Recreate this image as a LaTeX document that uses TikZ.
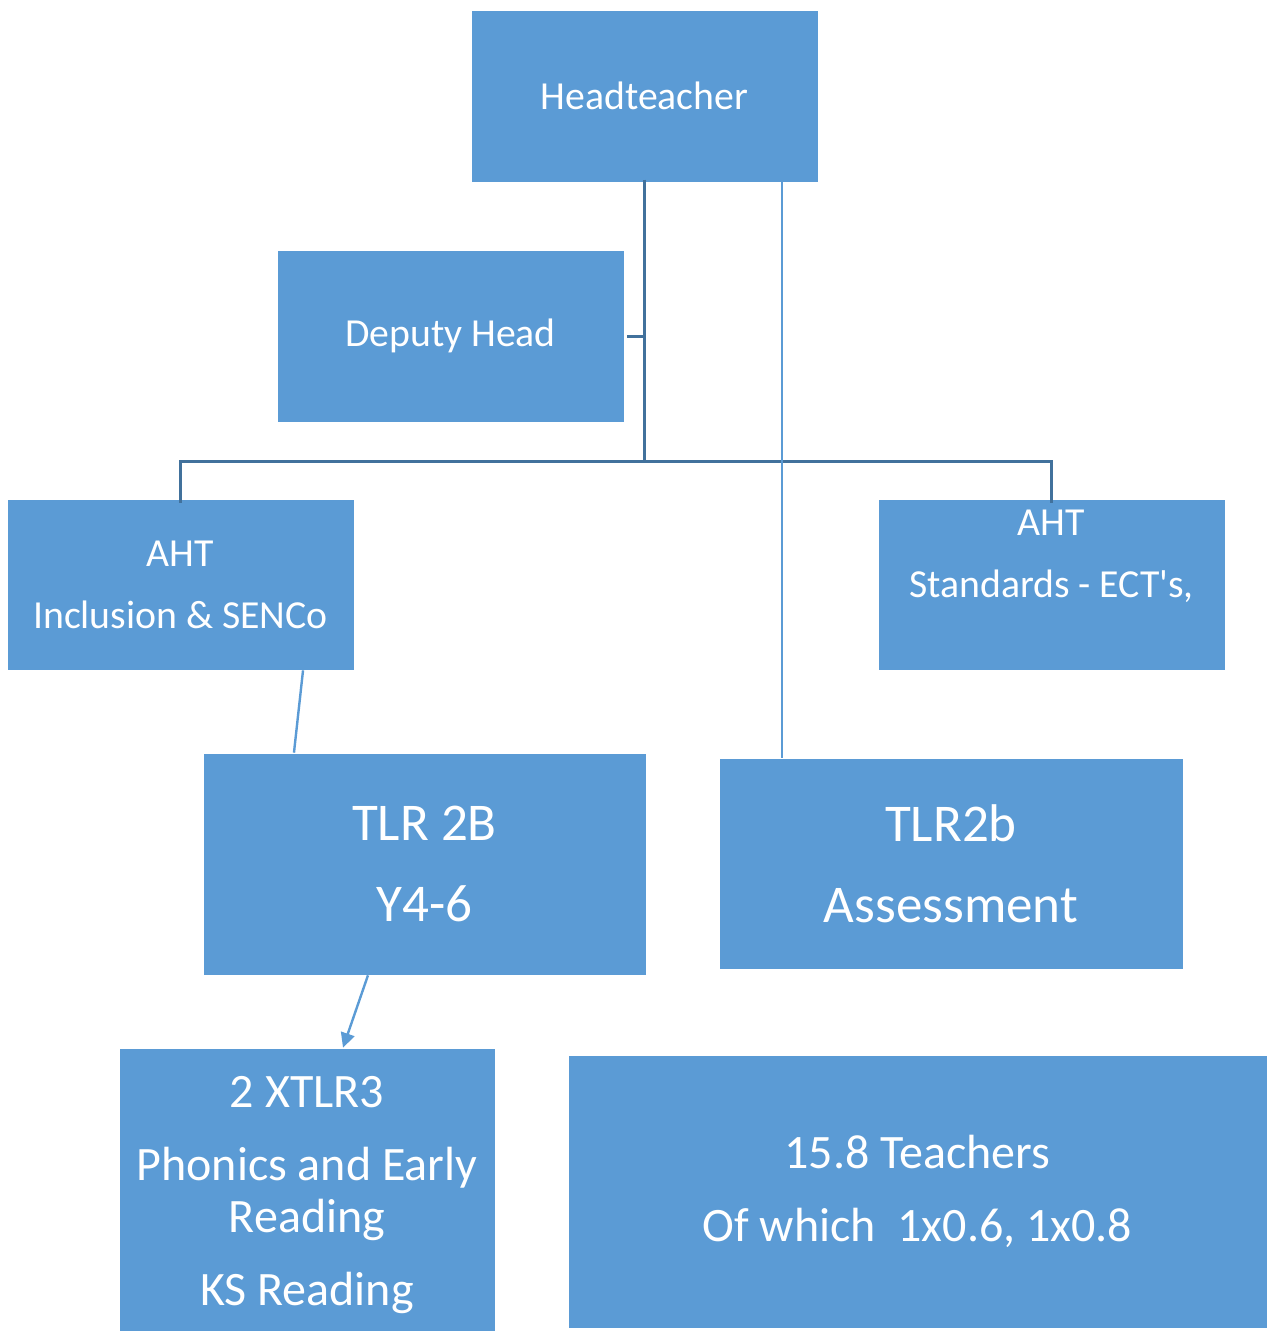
\documentclass[tikz,border=0pt]{standalone}
\usepackage{fontspec}
\setmainfont{Carlito}
\usetikzlibrary{arrows.meta}

\definecolor{boxblue}{RGB}{91,155,213}
\definecolor{lineblue}{RGB}{65,113,156}

\tikzset{
  post/.style={fill=boxblue, draw=white, line width=0.5pt, text=white, align=center, inner sep=0pt},
  smalltext/.style={font=\fontsize{29.8pt}{46.5pt}\selectfont},
  bigtext/.style={font=\fontsize{39.8pt}{60.75pt}\selectfont},
  midtext/.style={font=\fontsize{36pt}{39pt}\selectfont},
  darkline/.style={draw=lineblue, line width=2.25pt},
  liteline/.style={draw=boxblue, line width=1.8pt},
}

\begin{document}
\begin{tikzpicture}[x=0.75pt,y=0.75pt,yscale=-1,xscale=1]
\useasboundingbox (0,0) rectangle (1267,1331);

% posts
\node[post, smalltext, minimum width=260.25pt, minimum height=129pt] (head) at (644.5,96) {Headteacher};
\node[post, smalltext, minimum width=260.25pt, minimum height=129pt] (deputy) at (450.5,336) {Deputy Head};
\node[post, smalltext, minimum width=260.25pt, minimum height=128.25pt] (incl) at (180.5,584.5) {AHT\\Inclusion \& SENCo};
\node[post, smalltext, minimum width=260.25pt, minimum height=128.25pt] (stand) at (1051.5,584.5) {AHT\\Standards - ECT\textquotesingle s,\\\mbox{}};
\node[post, bigtext, minimum width=332.25pt, minimum height=166.5pt] (tlra) at (424.5,864) {TLR 2B\\Y4-6};
\node[post, bigtext, minimum width=348pt, minimum height=158.25pt] (tlrb) at (951,863.5) {TLR2b\\Assessment};
\node[post, midtext, minimum width=282pt, minimum height=212.25pt] (xtlr) at (307,1189.5) {\rule{0pt}{32pt}2 XTLR3\\[15.75pt]Phonics and Early\\Reading\\[15.75pt]KS Reading};
\node[post, midtext, minimum width=524.25pt, minimum height=204.75pt] (staff) at (917.5,1191.5) {15.8 Teachers\\[15.75pt]Of which\ \ 1x0.6, 1x0.8};

% hierarchy lines
\coordinate (hub) at (644.5,461);
\coordinate (drop) at (782,182);
\draw[darkline] ([yshift=-2pt]head.south) -- (hub);
\draw[darkline] ([xshift=2pt]deputy.east) -- (deputy.east -| hub);
\draw[darkline] ([yshift=3pt]incl.north) |- (hub) -| ([yshift=3pt]stand.north);
\draw[liteline] (drop) -- (drop |- tlrb.north);
\draw[liteline] ([xshift=91.9pt]incl.south) -- ([xshift=-97.9pt]tlra.north);
\draw[liteline, -{Triangle[width=10.5pt,length=11pt]}] ([xshift=-42.4pt]tlra.south) -- ([xshift=27pt]xtlr.north);

\end{tikzpicture}
\end{document}
